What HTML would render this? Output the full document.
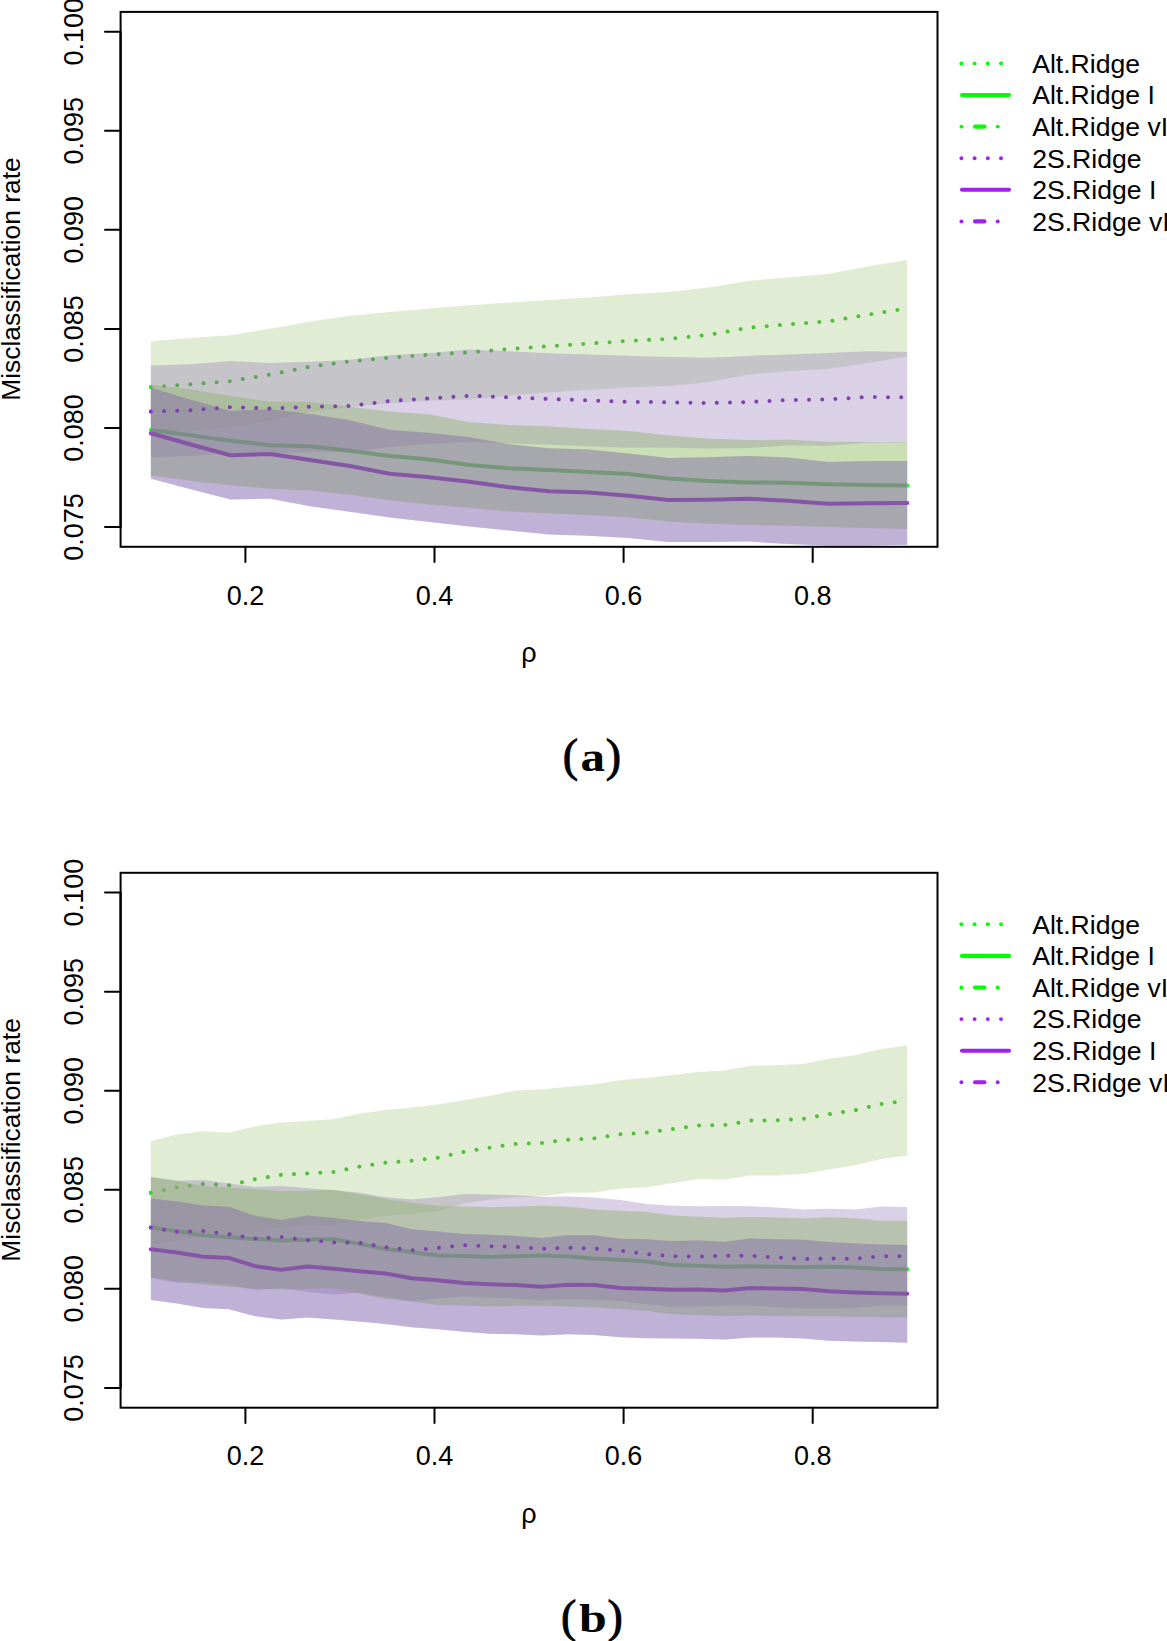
<!DOCTYPE html>
<html><head><meta charset="utf-8"><style>
html,body{margin:0;padding:0;background:#fff;width:1167px;height:1641px;overflow:hidden}
svg{display:block}
text{font-family:"Liberation Sans", sans-serif;fill:#000}
</style></head><body>
<svg width="1167" height="1641" viewBox="0 0 1167 1641">
<rect width="1167" height="1641" fill="#fff"/>
<g transform="translate(0,0)">
<polyline points="150.9,387.1 190.7,384.3 230.5,381.1 270.3,374.5 310.1,366.6 349.9,361.4 389.7,357.6 429.5,354.7 469.3,352.3 509.1,349.0 549.0,346.2 588.8,343.6 628.6,340.8 668.4,338.9 708.2,334.9 748.0,327.8 787.8,324.4 827.6,321.5 867.4,314.8 907.2,308.3" fill="none" stroke="rgb(50,192,32)" stroke-width="4" stroke-linecap="round" stroke-dasharray="0.01 13.17"/>
<polygon points="150.9,341.2 190.7,338.0 230.5,335.2 270.3,328.7 310.1,321.4 349.9,315.8 389.7,312.0 429.5,308.6 469.3,305.2 509.1,302.5 549.0,299.9 588.8,297.4 628.6,294.2 668.4,291.9 708.2,287.6 748.0,281.0 787.8,277.5 827.6,274.1 867.4,266.6 907.2,260.1 907.2,356.5 867.4,363.0 827.6,368.9 787.8,371.3 748.0,374.6 708.2,382.2 668.4,385.9 628.6,387.4 588.8,389.8 549.0,392.5 509.1,395.5 469.3,399.4 429.5,400.8 389.7,403.2 349.9,407.0 310.1,411.8 270.3,420.3 230.5,427.0 190.7,430.6 150.9,433.0" fill="rgb(152,192,112)" fill-opacity="0.3"/>
<polyline points="150.9,430.0 190.7,435.2 230.5,440.7 270.3,445.2 310.1,446.2 349.9,450.8 389.7,455.9 429.5,459.5 469.3,465.0 509.1,468.3 549.0,469.9 588.8,472.1 628.6,474.1 668.4,478.5 708.2,481.1 748.0,482.5 787.8,482.7 827.6,484.3 867.4,485.0 907.2,485.6" fill="none" stroke="rgb(50,192,32)" stroke-width="4" stroke-linecap="butt" stroke-linejoin="round"/>
<polygon points="150.9,384.4 190.7,389.6 230.5,396.1 270.3,401.7 310.1,401.9 349.9,406.8 389.7,411.5 429.5,414.5 469.3,422.2 509.1,425.1 549.0,426.6 588.8,429.1 628.6,430.9 668.4,435.5 708.2,438.7 748.0,440.0 787.8,439.7 827.6,441.7 867.4,442.1 907.2,442.3 907.2,528.9 867.4,527.9 827.6,526.9 787.8,525.7 748.0,525.0 708.2,523.5 668.4,521.5 628.6,517.3 588.8,515.1 549.0,513.2 509.1,511.5 469.3,507.8 429.5,504.5 389.7,500.3 349.9,494.8 310.1,490.5 270.3,488.7 230.5,485.3 190.7,480.8 150.9,475.6" fill="rgb(152,192,112)" fill-opacity="0.3"/>
<polygon points="150.9,365.6 190.7,364.3 230.5,361.1 270.3,363.0 310.1,361.7 349.9,359.7 389.7,355.3 429.5,353.0 469.3,349.4 509.1,351.2 549.0,353.3 588.8,354.6 628.6,355.8 668.4,357.0 708.2,357.7 748.0,356.0 787.8,354.4 827.6,353.1 867.4,351.3 907.2,352.0 907.2,442.6 867.4,442.7 827.6,445.7 787.8,445.6 748.0,448.0 708.2,448.5 668.4,447.6 628.6,447.8 588.8,446.2 549.0,444.7 509.1,443.4 469.3,442.0 429.5,443.8 389.7,446.9 349.9,452.1 310.1,451.7 270.3,454.2 230.5,453.1 190.7,456.1 150.9,457.4" fill="rgb(132,102,175)" fill-opacity="0.3"/>
<polyline points="150.9,433.3 190.7,444.5 230.5,455.2 270.3,454.0 310.1,460.1 349.9,466.0 389.7,473.8 429.5,477.3 469.3,481.8 509.1,487.3 549.0,491.3 588.8,492.6 628.6,495.8 668.4,500.0 708.2,499.7 748.0,498.8 787.8,500.7 827.6,503.8 867.4,503.2 907.2,502.9" fill="none" stroke="rgb(125,0,190)" stroke-width="4" stroke-linecap="butt" stroke-linejoin="round"/>
<polygon points="150.9,387.8 190.7,399.7 230.5,410.9 270.3,409.2 310.1,413.9 349.9,420.2 389.7,430.1 429.5,432.7 469.3,437.2 509.1,444.2 549.0,448.2 588.8,449.5 628.6,453.6 668.4,457.9 708.2,457.3 748.0,456.1 787.8,457.4 827.6,462.0 867.4,460.9 907.2,461.1 907.2,544.7 867.4,545.5 827.6,545.6 787.8,544.0 748.0,541.5 708.2,542.1 668.4,542.1 628.6,538.0 588.8,535.7 549.0,534.4 509.1,530.4 469.3,526.4 429.5,521.9 389.7,517.5 349.9,511.8 310.1,506.3 270.3,498.8 230.5,499.5 190.7,489.3 150.9,478.8" fill="rgb(132,102,175)" fill-opacity="0.3"/>
<polygon points="150.9,384.4 190.7,389.6 230.5,396.1 270.3,401.7 310.1,401.9 349.9,406.8 389.7,411.5 429.5,414.5 469.3,422.2 509.1,425.1 549.0,426.6 588.8,429.1 628.6,430.9 668.4,435.5 708.2,438.7 748.0,440.0 787.8,439.7 827.6,441.7 867.4,442.1 907.2,442.3 907.2,528.9 867.4,527.9 827.6,526.9 787.8,525.7 748.0,525.0 708.2,523.5 668.4,521.5 628.6,517.3 588.8,515.1 549.0,513.2 509.1,511.5 469.3,507.8 429.5,504.5 389.7,500.3 349.9,494.8 310.1,490.5 270.3,488.7 230.5,485.3 190.7,480.8 150.9,475.6" fill="rgb(152,192,112)" fill-opacity="0.3"/>
<polygon points="150.9,387.8 190.7,399.7 230.5,410.9 270.3,409.2 310.1,413.9 349.9,420.2 389.7,430.1 429.5,432.7 469.3,437.2 509.1,444.2 549.0,448.2 588.8,449.5 628.6,453.6 668.4,457.9 708.2,457.3 748.0,456.1 787.8,457.4 827.6,462.0 867.4,460.9 907.2,461.1 907.2,544.7 867.4,545.5 827.6,545.6 787.8,544.0 748.0,541.5 708.2,542.1 668.4,542.1 628.6,538.0 588.8,535.7 549.0,534.4 509.1,530.4 469.3,526.4 429.5,521.9 389.7,517.5 349.9,511.8 310.1,506.3 270.3,498.8 230.5,499.5 190.7,489.3 150.9,478.8" fill="rgb(132,102,175)" fill-opacity="0.3"/>
<polyline points="150.9,411.5 190.7,410.2 230.5,407.1 270.3,408.6 310.1,406.7 349.9,405.9 389.7,401.1 429.5,398.4 469.3,395.7 509.1,397.3 549.0,399.0 588.8,400.4 628.6,401.8 668.4,402.3 708.2,403.1 748.0,402.0 787.8,400.0 827.6,399.4 867.4,397.0 907.2,397.3" fill="none" stroke="rgb(128,64,176)" stroke-width="4" stroke-linecap="round" stroke-dasharray="0.01 13.17"/>
<path d="M150.90 385.10A2 2 0 0 0 150.90 389.10Z" fill="#00ff00"/>
<path d="M150.90 428.00A2 2 0 0 0 150.90 432.00Z" fill="#00ff00"/><path d="M907.20 483.60A2 2 0 0 1 907.20 487.60Z" fill="#00ff00"/>
<path d="M150.90 431.30A2 2 0 0 0 150.90 435.30Z" fill="#a020f0"/><path d="M907.20 500.90A2 2 0 0 1 907.20 504.90Z" fill="#a020f0"/>
<path d="M150.90 409.50A2 2 0 0 0 150.90 413.50Z" fill="#a020f0"/>
<rect x="120.6" y="11.9" width="816.9" height="534.9" fill="none" stroke="#000" stroke-width="2"/>
<path d="M120.6 527.0V31.7" stroke="#000" stroke-width="2.2" fill="none"/>
<path d="M120.6 527.0H105" stroke="#000" stroke-width="2" stroke-linecap="round"/>
<text transform="translate(82.6,527.0) rotate(-90)" text-anchor="middle" font-size="27">0.075</text>
<path d="M120.6 427.9H105" stroke="#000" stroke-width="2" stroke-linecap="round"/>
<text transform="translate(82.6,427.9) rotate(-90)" text-anchor="middle" font-size="27">0.080</text>
<path d="M120.6 328.9H105" stroke="#000" stroke-width="2" stroke-linecap="round"/>
<text transform="translate(82.6,328.9) rotate(-90)" text-anchor="middle" font-size="27">0.085</text>
<path d="M120.6 229.8H105" stroke="#000" stroke-width="2" stroke-linecap="round"/>
<text transform="translate(82.6,229.8) rotate(-90)" text-anchor="middle" font-size="27">0.090</text>
<path d="M120.6 130.8H105" stroke="#000" stroke-width="2" stroke-linecap="round"/>
<text transform="translate(82.6,130.8) rotate(-90)" text-anchor="middle" font-size="27">0.095</text>
<path d="M120.6 31.7H105" stroke="#000" stroke-width="2" stroke-linecap="round"/>
<text transform="translate(82.6,31.7) rotate(-90)" text-anchor="middle" font-size="27">0.100</text>
<path d="M245.4 546.8V562" stroke="#000" stroke-width="2" stroke-linecap="round"/>
<text x="245.4" y="604.5" text-anchor="middle" font-size="27">0.2</text>
<path d="M434.5 546.8V562" stroke="#000" stroke-width="2" stroke-linecap="round"/>
<text x="434.5" y="604.5" text-anchor="middle" font-size="27">0.4</text>
<path d="M623.6 546.8V562" stroke="#000" stroke-width="2" stroke-linecap="round"/>
<text x="623.6" y="604.5" text-anchor="middle" font-size="27">0.6</text>
<path d="M812.7 546.8V562" stroke="#000" stroke-width="2" stroke-linecap="round"/>
<text x="812.7" y="604.5" text-anchor="middle" font-size="27">0.8</text>
<text transform="translate(19.6,279) rotate(-90)" text-anchor="middle" font-size="26.4">Misclassification rate</text>
<text x="529" y="661.8" text-anchor="middle" font-size="27">ρ</text>
<text x="562.8" y="771.2" font-size="46" style="font-family:&quot;Liberation Serif&quot;,serif" stroke="#000" stroke-width="0.9">(</text>
<text transform="translate(580.5,771.2) scale(1.14,1)" font-size="43" style="font-family:&quot;Liberation Serif&quot;,serif;font-weight:bold">a</text>
<text x="605.8" y="771.2" font-size="46" style="font-family:&quot;Liberation Serif&quot;,serif" stroke="#000" stroke-width="0.9">)</text>
<circle cx="961.4" cy="63.4" r="1.95" fill="#00ff00"/>
<circle cx="974.6" cy="63.4" r="1.95" fill="#00ff00"/>
<circle cx="987.8" cy="63.4" r="1.95" fill="#00ff00"/>
<circle cx="1001.0" cy="63.4" r="1.95" fill="#00ff00"/>
<text x="1032.2" y="72.8" font-size="26.6">Alt.Ridge</text>
<path d="M962 95.0H1009" stroke="#00ff00" stroke-width="4.1" stroke-linecap="round"/>
<text x="1032.2" y="104.4" font-size="26.6">Alt.Ridge I</text>
<circle cx="961.4" cy="126.6" r="1.95" fill="#00ff00"/>
<path d="M975 126.6H984.4" stroke="#00ff00" stroke-width="4.1" stroke-linecap="round"/>
<circle cx="997.7" cy="126.6" r="1.95" fill="#00ff00"/>
<text x="1032.2" y="136.0" font-size="26.6">Alt.Ridge vI</text>
<circle cx="961.4" cy="158.2" r="1.95" fill="#a020f0"/>
<circle cx="974.6" cy="158.2" r="1.95" fill="#a020f0"/>
<circle cx="987.8" cy="158.2" r="1.95" fill="#a020f0"/>
<circle cx="1001.0" cy="158.2" r="1.95" fill="#a020f0"/>
<text x="1032.2" y="167.6" font-size="26.6">2S.Ridge</text>
<path d="M962 189.8H1009" stroke="#a020f0" stroke-width="4.1" stroke-linecap="round"/>
<text x="1032.2" y="199.2" font-size="26.6">2S.Ridge I</text>
<circle cx="961.4" cy="221.4" r="1.95" fill="#a020f0"/>
<path d="M975 221.4H984.4" stroke="#a020f0" stroke-width="4.1" stroke-linecap="round"/>
<circle cx="997.7" cy="221.4" r="1.95" fill="#a020f0"/>
<text x="1032.2" y="230.8" font-size="26.6">2S.Ridge vI</text>
</g>
<g transform="translate(0,860.9)">
<polyline points="150.9,331.9 177.0,326.5 203.1,323.0 229.1,324.4 255.2,318.3 281.3,313.9 307.4,312.5 333.5,311.1 359.5,305.7 385.6,301.9 411.7,299.8 437.8,296.8 463.9,291.0 489.9,286.7 516.0,283.0 542.1,282.0 568.2,278.8 594.2,277.5 620.3,273.3 646.4,271.7 672.5,268.2 698.6,264.5 724.6,264.1 750.7,259.7 776.8,259.4 802.9,258.0 829.0,253.2 855.0,249.3 881.1,243.1 907.2,239.6" fill="none" stroke="rgb(50,192,32)" stroke-width="4" stroke-linecap="round" stroke-dasharray="0.01 13.17"/>
<polygon points="150.9,280.0 177.0,273.5 203.1,270.3 229.1,271.9 255.2,265.4 281.3,261.7 307.4,259.9 333.5,258.4 359.5,252.9 385.6,249.0 411.7,246.7 437.8,243.5 463.9,239.3 489.9,234.8 516.0,229.7 542.1,228.4 568.2,225.8 594.2,223.5 620.3,219.0 646.4,217.1 672.5,214.1 698.6,211.0 724.6,209.7 750.7,204.8 776.8,204.3 802.9,203.0 829.0,197.8 855.0,194.3 881.1,188.0 907.2,184.5 907.2,294.7 881.1,298.2 855.0,304.3 829.0,308.6 802.9,313.0 776.8,314.5 750.7,314.6 724.6,318.5 698.6,318.0 672.5,322.3 646.4,326.3 620.3,327.6 594.2,331.5 568.2,331.8 542.1,335.6 516.0,336.3 489.9,338.6 463.9,342.7 437.8,350.1 411.7,352.9 385.6,354.8 359.5,358.5 333.5,363.8 307.4,365.1 281.3,366.1 255.2,371.2 229.1,376.9 203.1,375.7 177.0,379.5 150.9,383.8" fill="rgb(152,192,112)" fill-opacity="0.3"/>
<polyline points="150.9,366.3 177.0,370.4 203.1,374.3 229.1,376.3 255.2,378.0 281.3,379.5 307.4,378.9 333.5,378.1 359.5,383.0 385.6,388.2 411.7,391.3 437.8,394.6 463.9,395.2 489.9,396.0 516.0,395.3 542.1,394.7 568.2,395.7 594.2,397.6 620.3,398.9 646.4,400.5 672.5,404.0 698.6,404.9 724.6,405.9 750.7,405.3 776.8,405.9 802.9,406.4 829.0,405.9 855.0,406.6 881.1,408.1 907.2,408.3" fill="none" stroke="rgb(50,192,32)" stroke-width="4" stroke-linecap="butt" stroke-linejoin="round"/>
<polygon points="150.9,316.0 177.0,320.2 203.1,324.9 229.1,326.8 255.2,328.4 281.3,330.3 307.4,330.0 333.5,328.8 359.5,333.5 385.6,338.3 411.7,341.9 437.8,345.0 463.9,345.7 489.9,346.3 516.0,345.8 542.1,344.8 568.2,345.9 594.2,348.5 620.3,349.8 646.4,351.1 672.5,354.7 698.6,355.8 724.6,356.8 750.7,356.2 776.8,356.7 802.9,357.5 829.0,356.4 855.0,357.4 881.1,359.9 907.2,359.9 907.2,456.7 881.1,456.3 855.0,455.8 829.0,455.4 802.9,455.3 776.8,455.1 750.7,454.4 724.6,455.0 698.6,454.0 672.5,453.3 646.4,449.9 620.3,448.0 594.2,446.7 568.2,445.5 542.1,444.6 516.0,444.8 489.9,445.7 463.9,444.7 437.8,444.2 411.7,440.7 385.6,438.1 359.5,432.5 333.5,427.4 307.4,427.8 281.3,428.7 255.2,427.6 229.1,425.8 203.1,423.7 177.0,420.6 150.9,416.6" fill="rgb(152,192,112)" fill-opacity="0.3"/>
<polygon points="150.9,316.2 177.0,319.8 203.1,319.0 229.1,322.6 255.2,326.2 281.3,325.1 307.4,327.4 333.5,329.4 359.5,331.9 385.6,336.4 411.7,338.6 437.8,336.4 463.9,333.1 489.9,333.5 516.0,334.4 542.1,336.1 568.2,335.6 594.2,336.6 620.3,339.2 646.4,343.1 672.5,344.8 698.6,345.3 724.6,345.0 750.7,345.3 776.8,346.7 802.9,348.6 829.0,347.8 855.0,348.5 881.1,345.7 907.2,346.0 907.2,444.8 881.1,444.9 855.0,447.1 829.0,447.6 802.9,447.6 776.8,446.3 750.7,444.7 724.6,444.8 698.6,445.9 672.5,445.8 646.4,443.3 620.3,440.0 594.2,438.8 568.2,438.2 542.1,439.5 516.0,437.6 489.9,436.9 463.9,435.3 437.8,437.6 411.7,440.2 385.6,436.0 359.5,431.9 333.5,433.6 307.4,431.0 281.3,427.1 255.2,429.2 229.1,424.0 203.1,421.4 177.0,421.8 150.9,417.2" fill="rgb(132,102,175)" fill-opacity="0.3"/>
<polyline points="150.9,388.3 177.0,391.6 203.1,395.8 229.1,397.1 255.2,405.3 281.3,408.9 307.4,405.7 333.5,407.9 359.5,410.4 385.6,412.6 411.7,417.3 437.8,419.4 463.9,422.0 489.9,423.3 516.0,424.2 542.1,425.9 568.2,423.9 594.2,424.2 620.3,427.1 646.4,427.8 672.5,428.8 698.6,428.7 724.6,429.7 750.7,427.1 776.8,427.5 802.9,428.2 829.0,430.4 855.0,431.6 881.1,432.3 907.2,432.9" fill="none" stroke="rgb(125,0,190)" stroke-width="4" stroke-linecap="butt" stroke-linejoin="round"/>
<polygon points="150.9,337.5 177.0,340.6 203.1,344.5 229.1,345.8 255.2,355.2 281.3,359.2 307.4,354.7 333.5,357.2 359.5,360.2 385.6,362.1 411.7,368.3 437.8,370.5 463.9,373.2 489.9,373.8 516.0,375.0 542.1,377.1 568.2,374.4 594.2,374.3 620.3,377.8 646.4,378.3 672.5,380.0 698.6,379.5 724.6,380.8 750.7,377.6 776.8,378.4 802.9,378.8 829.0,381.0 855.0,382.7 881.1,383.5 907.2,384.0 907.2,481.8 881.1,481.1 855.0,480.5 829.0,479.8 802.9,477.6 776.8,476.6 750.7,476.6 724.6,478.6 698.6,477.9 672.5,477.6 646.4,477.3 620.3,476.4 594.2,474.1 568.2,473.4 542.1,474.7 516.0,473.4 489.9,472.8 463.9,470.8 437.8,468.3 411.7,466.3 385.6,463.1 359.5,460.6 333.5,458.6 307.4,456.7 281.3,458.6 255.2,455.4 229.1,448.4 203.1,447.1 177.0,442.6 150.9,439.1" fill="rgb(132,102,175)" fill-opacity="0.3"/>
<polygon points="150.9,316.0 177.0,320.2 203.1,324.9 229.1,326.8 255.2,328.4 281.3,330.3 307.4,330.0 333.5,328.8 359.5,333.5 385.6,338.3 411.7,341.9 437.8,345.0 463.9,345.7 489.9,346.3 516.0,345.8 542.1,344.8 568.2,345.9 594.2,348.5 620.3,349.8 646.4,351.1 672.5,354.7 698.6,355.8 724.6,356.8 750.7,356.2 776.8,356.7 802.9,357.5 829.0,356.4 855.0,357.4 881.1,359.9 907.2,359.9 907.2,456.7 881.1,456.3 855.0,455.8 829.0,455.4 802.9,455.3 776.8,455.1 750.7,454.4 724.6,455.0 698.6,454.0 672.5,453.3 646.4,449.9 620.3,448.0 594.2,446.7 568.2,445.5 542.1,444.6 516.0,444.8 489.9,445.7 463.9,444.7 437.8,444.2 411.7,440.7 385.6,438.1 359.5,432.5 333.5,427.4 307.4,427.8 281.3,428.7 255.2,427.6 229.1,425.8 203.1,423.7 177.0,420.6 150.9,416.6" fill="rgb(152,192,112)" fill-opacity="0.3"/>
<polygon points="150.9,337.5 177.0,340.6 203.1,344.5 229.1,345.8 255.2,355.2 281.3,359.2 307.4,354.7 333.5,357.2 359.5,360.2 385.6,362.1 411.7,368.3 437.8,370.5 463.9,373.2 489.9,373.8 516.0,375.0 542.1,377.1 568.2,374.4 594.2,374.3 620.3,377.8 646.4,378.3 672.5,380.0 698.6,379.5 724.6,380.8 750.7,377.6 776.8,378.4 802.9,378.8 829.0,381.0 855.0,382.7 881.1,383.5 907.2,384.0 907.2,481.8 881.1,481.1 855.0,480.5 829.0,479.8 802.9,477.6 776.8,476.6 750.7,476.6 724.6,478.6 698.6,477.9 672.5,477.6 646.4,477.3 620.3,476.4 594.2,474.1 568.2,473.4 542.1,474.7 516.0,473.4 489.9,472.8 463.9,470.8 437.8,468.3 411.7,466.3 385.6,463.1 359.5,460.6 333.5,458.6 307.4,456.7 281.3,458.6 255.2,455.4 229.1,448.4 203.1,447.1 177.0,442.6 150.9,439.1" fill="rgb(132,102,175)" fill-opacity="0.3"/>
<polyline points="150.9,366.7 177.0,370.8 203.1,370.2 229.1,373.3 255.2,377.7 281.3,376.1 307.4,379.2 333.5,381.5 359.5,381.9 385.6,386.2 411.7,389.4 437.8,387.0 463.9,384.2 489.9,385.2 516.0,386.0 542.1,387.8 568.2,386.9 594.2,387.7 620.3,389.6 646.4,393.2 672.5,395.3 698.6,395.6 724.6,394.9 750.7,395.0 776.8,396.5 802.9,398.1 829.0,397.7 855.0,397.8 881.1,395.3 907.2,395.4" fill="none" stroke="rgb(128,64,176)" stroke-width="4" stroke-linecap="round" stroke-dasharray="0.01 13.17"/>
<path d="M150.90 329.90A2 2 0 0 0 150.90 333.90Z" fill="#00ff00"/>
<path d="M150.90 364.30A2 2 0 0 0 150.90 368.30Z" fill="#00ff00"/><path d="M907.20 406.30A2 2 0 0 1 907.20 410.30Z" fill="#00ff00"/>
<path d="M150.90 386.30A2 2 0 0 0 150.90 390.30Z" fill="#a020f0"/><path d="M907.20 430.90A2 2 0 0 1 907.20 434.90Z" fill="#a020f0"/>
<path d="M150.90 364.70A2 2 0 0 0 150.90 368.70Z" fill="#a020f0"/>
<rect x="120.6" y="11.9" width="816.9" height="534.9" fill="none" stroke="#000" stroke-width="2"/>
<path d="M120.6 527.0V31.7" stroke="#000" stroke-width="2.2" fill="none"/>
<path d="M120.6 527.0H105" stroke="#000" stroke-width="2" stroke-linecap="round"/>
<text transform="translate(82.6,527.0) rotate(-90)" text-anchor="middle" font-size="27">0.075</text>
<path d="M120.6 427.9H105" stroke="#000" stroke-width="2" stroke-linecap="round"/>
<text transform="translate(82.6,427.9) rotate(-90)" text-anchor="middle" font-size="27">0.080</text>
<path d="M120.6 328.9H105" stroke="#000" stroke-width="2" stroke-linecap="round"/>
<text transform="translate(82.6,328.9) rotate(-90)" text-anchor="middle" font-size="27">0.085</text>
<path d="M120.6 229.8H105" stroke="#000" stroke-width="2" stroke-linecap="round"/>
<text transform="translate(82.6,229.8) rotate(-90)" text-anchor="middle" font-size="27">0.090</text>
<path d="M120.6 130.8H105" stroke="#000" stroke-width="2" stroke-linecap="round"/>
<text transform="translate(82.6,130.8) rotate(-90)" text-anchor="middle" font-size="27">0.095</text>
<path d="M120.6 31.7H105" stroke="#000" stroke-width="2" stroke-linecap="round"/>
<text transform="translate(82.6,31.7) rotate(-90)" text-anchor="middle" font-size="27">0.100</text>
<path d="M245.4 546.8V562" stroke="#000" stroke-width="2" stroke-linecap="round"/>
<text x="245.4" y="604.5" text-anchor="middle" font-size="27">0.2</text>
<path d="M434.5 546.8V562" stroke="#000" stroke-width="2" stroke-linecap="round"/>
<text x="434.5" y="604.5" text-anchor="middle" font-size="27">0.4</text>
<path d="M623.6 546.8V562" stroke="#000" stroke-width="2" stroke-linecap="round"/>
<text x="623.6" y="604.5" text-anchor="middle" font-size="27">0.6</text>
<path d="M812.7 546.8V562" stroke="#000" stroke-width="2" stroke-linecap="round"/>
<text x="812.7" y="604.5" text-anchor="middle" font-size="27">0.8</text>
<text transform="translate(19.6,279) rotate(-90)" text-anchor="middle" font-size="26.4">Misclassification rate</text>
<text x="529" y="661.8" text-anchor="middle" font-size="27">ρ</text>
<text x="561.0" y="771.2" font-size="46" style="font-family:&quot;Liberation Serif&quot;,serif" stroke="#000" stroke-width="0.9">(</text>
<text transform="translate(578.9,771.2) scale(1.22,1)" font-size="41" style="font-family:&quot;Liberation Serif&quot;,serif;font-weight:bold">b</text>
<text x="607.6" y="771.2" font-size="46" style="font-family:&quot;Liberation Serif&quot;,serif" stroke="#000" stroke-width="0.9">)</text>
<circle cx="961.4" cy="63.4" r="1.95" fill="#00ff00"/>
<circle cx="974.6" cy="63.4" r="1.95" fill="#00ff00"/>
<circle cx="987.8" cy="63.4" r="1.95" fill="#00ff00"/>
<circle cx="1001.0" cy="63.4" r="1.95" fill="#00ff00"/>
<text x="1032.2" y="72.8" font-size="26.6">Alt.Ridge</text>
<path d="M962 95.0H1009" stroke="#00ff00" stroke-width="4.1" stroke-linecap="round"/>
<text x="1032.2" y="104.4" font-size="26.6">Alt.Ridge I</text>
<circle cx="961.4" cy="126.6" r="1.95" fill="#00ff00"/>
<path d="M975 126.6H984.4" stroke="#00ff00" stroke-width="4.1" stroke-linecap="round"/>
<circle cx="997.7" cy="126.6" r="1.95" fill="#00ff00"/>
<text x="1032.2" y="136.0" font-size="26.6">Alt.Ridge vI</text>
<circle cx="961.4" cy="158.2" r="1.95" fill="#a020f0"/>
<circle cx="974.6" cy="158.2" r="1.95" fill="#a020f0"/>
<circle cx="987.8" cy="158.2" r="1.95" fill="#a020f0"/>
<circle cx="1001.0" cy="158.2" r="1.95" fill="#a020f0"/>
<text x="1032.2" y="167.6" font-size="26.6">2S.Ridge</text>
<path d="M962 189.8H1009" stroke="#a020f0" stroke-width="4.1" stroke-linecap="round"/>
<text x="1032.2" y="199.2" font-size="26.6">2S.Ridge I</text>
<circle cx="961.4" cy="221.4" r="1.95" fill="#a020f0"/>
<path d="M975 221.4H984.4" stroke="#a020f0" stroke-width="4.1" stroke-linecap="round"/>
<circle cx="997.7" cy="221.4" r="1.95" fill="#a020f0"/>
<text x="1032.2" y="230.8" font-size="26.6">2S.Ridge vI</text>
</g>
</svg>
</body></html>
